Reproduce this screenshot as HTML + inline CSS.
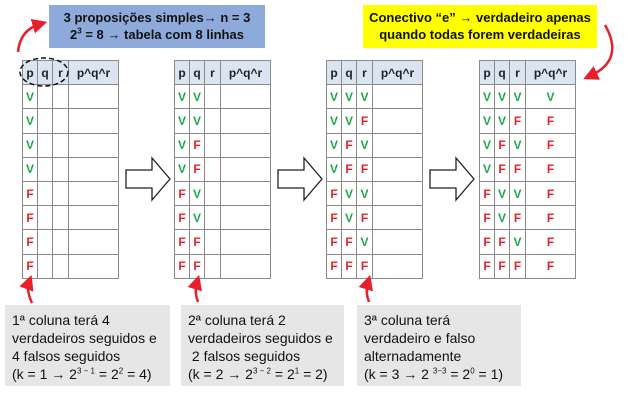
<!DOCTYPE html>
<html><head><meta charset="utf-8"><style>
body{margin:0;width:630px;height:403px;background:#fff;position:relative;overflow:hidden;font-family:"Liberation Sans",sans-serif}
.box{position:absolute;font-weight:bold;font-size:13px;line-height:17px;color:#111;text-align:center;box-sizing:border-box;padding-top:4px}
.note{position:absolute;background:#e6e6e6;font-size:14px;line-height:18px;color:#111;box-sizing:border-box;padding:6px 0 0 7px;top:305px;height:81px;white-space:nowrap}
table{position:absolute;top:60px;border-collapse:collapse;font-weight:bold;font-size:12px}
td{border:1px solid #8a8a8a;height:23.2px;padding:0;text-align:center}
tr.h td{background:#dbe5f1;color:#222}
.V{color:#1fa84a}.F{color:#e8202a}
sup{font-size:8px;line-height:0}
</style></head><body>
<div class="box" style="left:49px;top:5px;width:216px;height:43px;background:#8eaadb">3 proposições simples→ n = 3<br>2<sup>3</sup> = 8 → tabela com 8 linhas</div>
<div class="box" style="left:363px;top:5px;width:234px;height:43px;background:#ffff00">Conectivo “e” → verdadeiro apenas<br>quando todas forem verdadeiras</div>
<div id="tables"></div>
<div class="note" style="left:5px;width:165px">1ª coluna terá 4<br>verdadeiros seguidos e<br>4 falsos seguidos<br>(k = 1 → 2<sup>3 − 1</sup> = 2<sup>2</sup> = 4)</div>
<div class="note" style="left:181px;width:163px">2ª coluna terá 2<br>verdadeiros seguidos e<br>&nbsp;2 falsos seguidos<br>(k = 2 → 2<sup>3 − 2</sup> = 2<sup>1</sup> = 2)</div>
<div class="note" style="left:357px;width:164px">3ª coluna terá<br>verdadeiro e falso<br>alternadamente<br>(k = 3 → 2 <sup>3−3</sup> = 2<sup>0</sup> = 1)</div>
<svg width="630" height="403" style="position:absolute;left:0;top:0">
<defs><marker id="rh" markerWidth="6" markerHeight="6" refX="3" refY="3" orient="auto"><path d="M0,0L6,3L0,6z" fill="#e8202a"/></marker></defs>
<path d="M18,52 Q20,30 40,24" stroke="#e8202a" stroke-width="2.5" fill="none" marker-end="url(#rh)"/>
<path d="M605,25 Q625,60 590,76" stroke="#e8202a" stroke-width="2.5" fill="none" marker-end="url(#rh)"/>
<path d="M32,303 Q26,290 29,282" stroke="#e8202a" stroke-width="2.5" fill="none" marker-end="url(#rh)"/>
<path d="M198,302 Q194,292 197,282" stroke="#e8202a" stroke-width="2.5" fill="none" marker-end="url(#rh)"/>
<path d="M369,302 Q365,292 368,282" stroke="#e8202a" stroke-width="2.5" fill="none" marker-end="url(#rh)"/>
<ellipse cx="44" cy="72" rx="24" ry="14" stroke="#111" stroke-width="1.5" stroke-dasharray="5,3" fill="none"/>
<g fill="#fff" stroke="#222" stroke-width="1.3">
<path d="M126,170h26v-12l18,21l-18,21v-12h-26z"/>
<path d="M278,170h26v-12l18,21l-18,21v-12h-26z"/>
<path d="M430,170h26v-12l18,21l-18,21v-12h-26z"/>
</g>
</svg>
<script>
const pVals=["V","V","V","V","F","F","F","F"];
const qVals=["V","V","F","F","V","V","F","F"];
const rVals=["V","F","V","F","V","F","V","F"];
const resVals=["V","F","F","F","F","F","F","F"];
const lefts=[22,174,326,479];
const host=document.getElementById('tables');
for(let t=0;t<4;t++){
 const tb=document.createElement('table');
 
 
 tb.style.left=lefts[t]+'px';
 const ws=[14,14,15,49];
 let h='<tr class="h">'+['p','q','r','p^q^r'].map((x,i)=>`<td style="width:${ws[i]}px">${x}</td>`).join('')+'</tr>';
 for(let i=0;i<8;i++){
  const cells=[pVals[i],t>=1?qVals[i]:'',t>=2?rVals[i]:'',t>=3?resVals[i]:''];
  h+='<tr>'+cells.map(c=>`<td class="${c}">${c}</td>`).join('')+'</tr>';
 }
 tb.innerHTML=h;
 host.appendChild(tb);
}
</script>
</body></html>
